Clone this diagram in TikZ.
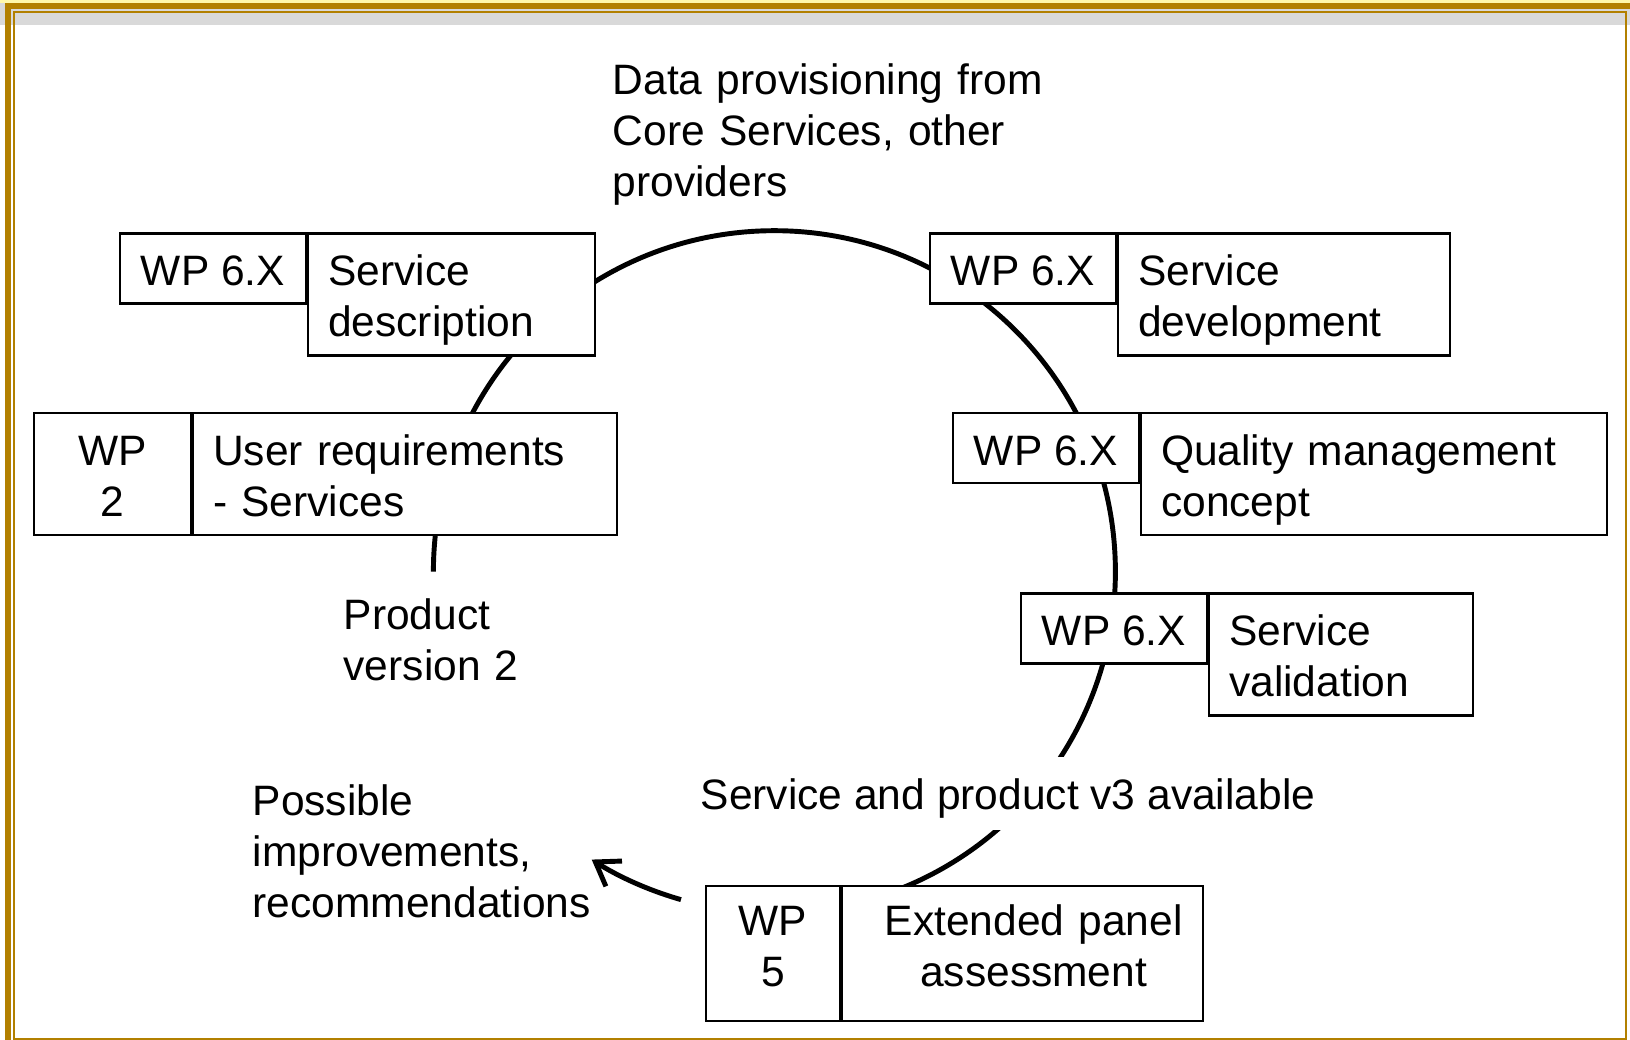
\documentclass[tikz,border=0pt]{standalone}
\usepackage{fontspec}
\setmainfont{Liberation Sans}
\usepackage{xcolor}
\usetikzlibrary{arrows.meta}
\definecolor{framegold}{RGB}{178,128,0}
\definecolor{topband}{RGB}{217,217,217}
\definecolor{topline}{RGB}{255,248,170}

\begin{document}
\begin{tikzpicture}[every node/.style={font=\fontsize{12.1}{14.5}\selectfont},
  wp/.style={draw,fill=white,line width=.6pt,inner sep=0pt,anchor=north west,align=center,text height=.52cm,text depth=.18cm},
  task/.style={draw,fill=white,line width=.6pt,inner xsep=.2cm,inner ysep=0pt,anchor=north west,align=left,text height=.52cm,text depth=.7cm},
  note/.style={inner sep=0pt,anchor=base west,align=left},
  loop/.style={line width=1.4pt}]
\useasboundingbox (0,0) rectangle (16.3,-10.4);
\clip (0,0) rectangle (16.3,-10.4);
\fill[topband] (0,-.03) rectangle (16.3,-.25);
\fill[topline] (0,0) rectangle (16.3,-.03);
\draw[framegold,line width=.06cm] (.08,-.06) rectangle (16.36,-10.48);
\draw[framegold,line width=.023cm] (.138,-.122) rectangle (16.26,-10.39);

\coordinate (hub) at (7.744,-5.717);
\draw[loop] (hub) ++(180:3.41) arc[start angle=180,end angle=-90,radius=3.41];
\draw[loop,-{Straight Barb[length=2.2mm,width=3mm]}] (hub) ++(-105.9:3.41) arc[start angle=-105.9,end angle=-122.4,radius=3.41];

\node [wp,minimum width=1.86cm] (wp1) at (1.19,-2.325) {WP 6.X};
\node [task,text width=2.465cm] (desc) at (wp1.north east) {Service\\description};
\node [wp,text width=1.57cm,text depth=.7cm] (wp2) at (.33,-4.12) {WP\\2};
\node [task,text width=3.84cm] (req) at (wp2.north east) {User requirements\\- Services};
\node [wp,minimum width=1.86cm] (wp3) at (9.29,-2.325) {WP 6.X};
\node [task,text width=2.92cm] (dev) at (wp3.north east) {Service\\development};
\node [wp,minimum width=1.86cm] (wp4) at (9.52,-4.12) {WP 6.X};
\node [task,text width=4.26cm] (qual) at (wp4.north east) {Quality management\\concept};
\node [wp,minimum width=1.86cm] (wp5) at (10.20,-5.925) {WP 6.X};
\node [task,text width=2.24cm] (valid) at (wp5.north east) {Service\\validation};
\node [wp,text width=1.34cm,text height=.49cm,text depth=.86cm] (wp6) at (7.05,-8.85) {WP\\5};
\node [task,text width=3.21cm,align=center,text height=.49cm,text depth=.86cm] (panel) at (wp6.north east) {\hspace*{.22cm}Extended panel\\\hspace*{.22cm}assessment};

\node [note,text width=4.5cm] (data) at (6.12,-.95) {Data provisioning from\\Core Services, other\\providers};
\node [note,text width=2.5cm] (prod) at (3.43,-6.293) {Product\\version 2};
\node [note,text width=4cm] (poss) at (2.52,-8.16) {Possible\\improvements,\\recommendations};
\node [note,fill=white,inner xsep=2pt,inner ysep=.07cm,text height=.46cm,text depth=.13cm] (avail) at (6.93,-8.10) {Service and product v3 available};
\end{tikzpicture}
\end{document}
